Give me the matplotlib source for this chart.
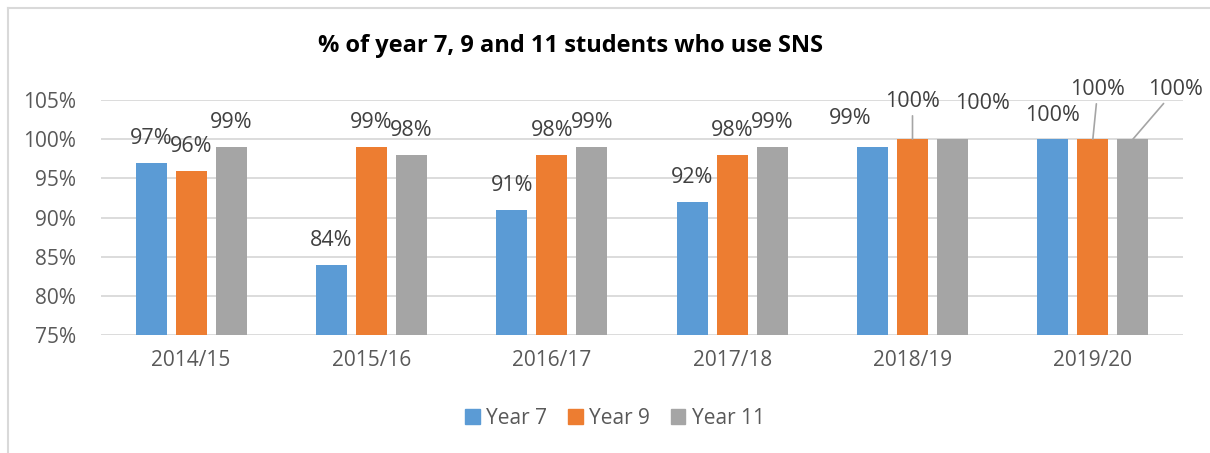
import matplotlib
matplotlib.use("Agg")
import matplotlib.pyplot as plt
from matplotlib.lines import Line2D
import numpy as np

categories = ["2014/15", "2015/16", "2016/17", "2017/18", "2018/19", "2019/20"]
year7 = [97, 84, 91, 92, 99, 100]
year9 = [96, 99, 98, 98, 100, 100]
year11 = [99, 98, 99, 99, 100, 100]
series_names = ["Year 7", "Year 9", "Year 11"]
title = "% of year 7, 9 and 11 students who use SNS"

colors = ["#5B9BD5", "#ED7D31", "#A5A5A5"]
# label offsets (pixels, dx, extra dy) and leader flag per series per category
label_adj = {
    (0, 4): (-22, 5, False),
    (1, 4): (0, 14, True),
    (2, 4): (30, 12, False),
    (1, 5): (5, 26, True),
    (2, 5): (43, 26, True),
}

plt.rcParams['font.family'] = ['Open Sans', 'DejaVu Sans']
fig = plt.figure(figsize=(12.1, 4.53), dpi=100)
W, H = 1210, 453
ax = fig.add_axes([101 / W, 1 - 335 / H, (1183 - 101) / W, (335 - 100) / H])

x = np.arange(len(categories))
step = 40 / 180
width = 31 / 180
data = [year7, year9, year11]
for i, (vals, c, name) in enumerate(zip(data, colors, series_names)):
    pos = x + (i - 1) * step
    ax.bar(pos, np.array(vals) - 75, width, bottom=75, color=c, label=name, zorder=3)
    for j, (px, v) in enumerate(zip(pos, vals)):
        dx, dy, leader = label_adj.get((i, j), (0, 0, False))
        kw = {}
        if leader:
            kw['arrowprops'] = dict(arrowstyle='-', color='#A5A5A5', lw=1.2,
                                    shrinkA=1, shrinkB=0)
        ax.annotate(f"{v}%", xy=(px, v), xytext=(dx, 24 + dy),
                    textcoords='offset pixels', ha='center', va='center',
                    fontsize=15.5, color='#404040', zorder=4, **kw)

ax.set_ylim(75, 105)
ax.set_xlim(-0.5, len(categories) - 0.5)
ax.set_yticks(np.arange(75, 106, 5))
ax.set_yticklabels([f"{t}%" for t in range(75, 106, 5)])
ax.set_xticks(x)
ax.set_xticklabels(categories)
ax.tick_params(axis='both', length=0, labelsize=15, colors='#595959')
ax.tick_params(axis='y', pad=18)
ax.tick_params(axis='x', pad=11)
ax.grid(axis='y', color='#D9D9D9', lw=1.3, zorder=0)
for s in ax.spines.values():
    s.set_visible(False)

fig.text(570 / W, 1 - 46 / H, title, ha='center', va='center',
         fontsize=17, fontweight='bold', color='black')

handles = [plt.Rectangle((0, 0), 1, 1, color=c) for c in colors]
fig.legend(handles, series_names, loc='center', bbox_to_anchor=(615 / W, 1 - 418 / H),
           ncol=3, frameon=False, fontsize=15, labelcolor='#595959',
           handlelength=0.7, handleheight=0.7, handletextpad=0.3, columnspacing=1.0)

fig.add_artist(Line2D([8 / W, 1], [1 - 8 / H, 1 - 8 / H], color='#D9D9D9', lw=1.5))
fig.add_artist(Line2D([8 / W, 8 / W], [0, 1 - 8 / H], color='#D9D9D9', lw=1.5))

fig.savefig("out.png", dpi=100)
